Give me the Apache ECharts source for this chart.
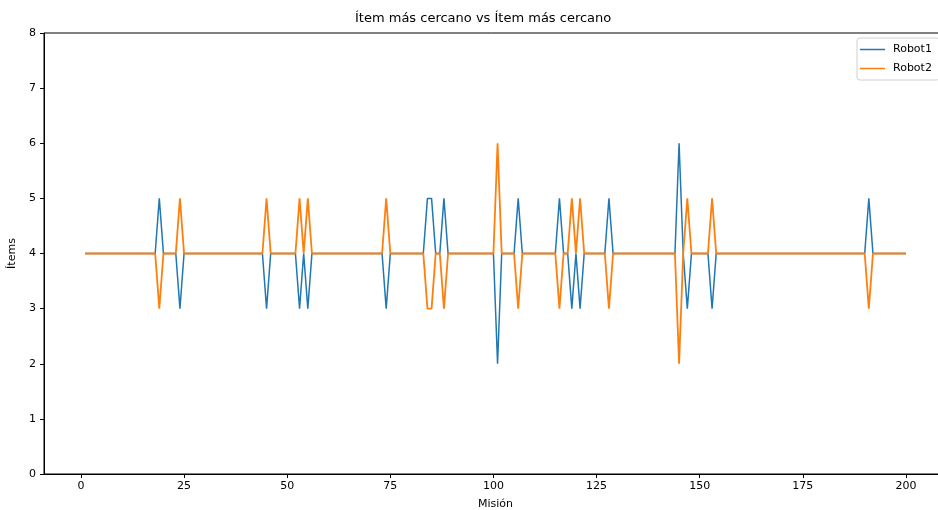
<!DOCTYPE html>
<html>
<head>
<meta charset="utf-8">
<script src="https://cdn.jsdelivr.net/npm/echarts@6/dist/echarts.min.js"></script>
<style>
  html, body { margin: 0; padding: 0; background: #fff; }
  #chart { width: 938px; height: 510px; }
</style>
</head>
<body>
<div id="chart"></div>
<script>
// datos: misiones 1..200, ítems por robot
const misiones = Array.from({ length: 200 }, (_, i) => i + 1);

const robot1 = [
  4,4,4,4,4,4,4,4,4,4,4,4,4,4,4,4,4,4,5,4,
  4,4,4,3,4,4,4,4,4,4,4,4,4,4,4,4,4,4,4,4,
  4,4,4,4,3,4,4,4,4,4,4,4,3,4,3,4,4,4,4,4,
  4,4,4,4,4,4,4,4,4,4,4,4,4,3,4,4,4,4,4,4,
  4,4,4,5,5,4,4,5,4,4,4,4,4,4,4,4,4,4,4,4,
  2,4,4,4,4,5,4,4,4,4,4,4,4,4,4,5,4,4,3,4,
  3,4,4,4,4,4,4,5,4,4,4,4,4,4,4,4,4,4,4,4,
  4,4,4,4,6,4,3,4,4,4,4,4,3,4,4,4,4,4,4,4,
  4,4,4,4,4,4,4,4,4,4,4,4,4,4,4,4,4,4,4,4,
  4,4,4,4,4,4,4,4,4,4,5,4,4,4,4,4,4,4,4,4
];

const robot2 = [
  4,4,4,4,4,4,4,4,4,4,4,4,4,4,4,4,4,4,3,4,
  4,4,4,5,4,4,4,4,4,4,4,4,4,4,4,4,4,4,4,4,
  4,4,4,4,5,4,4,4,4,4,4,4,5,4,5,4,4,4,4,4,
  4,4,4,4,4,4,4,4,4,4,4,4,4,5,4,4,4,4,4,4,
  4,4,4,3,3,4,4,3,4,4,4,4,4,4,4,4,4,4,4,4,
  6,4,4,4,4,3,4,4,4,4,4,4,4,4,4,3,4,4,5,4,
  5,4,4,4,4,4,4,3,4,4,4,4,4,4,4,4,4,4,4,4,
  4,4,4,4,2,4,5,4,4,4,4,4,5,4,4,4,4,4,4,4,
  4,4,4,4,4,4,4,4,4,4,4,4,4,4,4,4,4,4,4,4,
  4,4,4,4,4,4,4,4,4,4,3,4,4,4,4,4,4,4,4,4
];

const xTicks = [0, 25, 50, 75, 100, 125, 150, 175, 200];

const font = 'DejaVu Sans';
const chart = echarts.init(document.getElementById('chart'));

const option = {
  animation: false,
  backgroundColor: '#fff',
  title: {
    text: 'Ítem más cercano vs Ítem más cercano',
    left: 355,
    top: 12,
    padding: 0,
    textStyle: { fontFamily: font, fontSize: 13, fontWeight: 'normal', color: '#000' }
  },
  legend: {
    orient: 'vertical',
    left: 857,
    top: 38,
    padding: [6, 8, 6, 3],
    icon: 'rect',
    itemWidth: 25,
    itemHeight: 1.5,
    itemGap: 8,
    backgroundColor: '#fff',
    borderColor: '#d0d0d0',
    borderWidth: 1,
    borderRadius: 3,
    textStyle: { fontFamily: font, fontSize: 11, color: '#000', padding: [0, 0, 0, 3] },
    data: ['Robot1', 'Robot2']
  },
  grid: {
    left: 44,
    top: 33,
    width: 903,
    height: 441,
    show: true,
    borderColor: '#000',
    borderWidth: 1,
    containLabel: false,
    outerBoundsMode: 'none'
  },
  xAxis: {
    type: 'value',
    min: -8.95,
    max: 209.95,
    name: 'Misión',
    nameLocation: 'middle',
    nameGap: 25,
    nameTextStyle: { fontFamily: font, fontSize: 11, color: '#000' },
    splitLine: { show: false },
    axisLine: { onZero: false, lineStyle: { color: '#000', width: 1 } },
    axisTick: { inside: false, length: 4, customValues: xTicks, lineStyle: { color: '#000' } },
    axisLabel: { customValues: xTicks, margin: 7, fontFamily: font, fontSize: 11, color: '#000' }
  },
  yAxis: {
    type: 'value',
    min: 0,
    max: 8,
    interval: 1,
    name: 'Ítems',
    nameLocation: 'middle',
    nameGap: 22,
    nameTextStyle: { fontFamily: font, fontSize: 11, color: '#000' },
    splitLine: { show: false },
    axisLine: { show: true, onZero: false, lineStyle: { color: '#000', width: 1 } },
    axisTick: { show: true, length: 4, lineStyle: { color: '#000' } },
    axisLabel: { margin: 8, fontFamily: font, fontSize: 11, color: '#000' }
  },
  series: [
    {
      name: 'Robot1',
      type: 'line',
      data: misiones.map((m, i) => [m, robot1[i]]),
      showSymbol: false,
      symbol: 'none',
      lineStyle: { color: '#1f77b4', width: 1.5 },
      itemStyle: { color: '#1f77b4' }
    },
    {
      name: 'Robot2',
      type: 'line',
      data: misiones.map((m, i) => [m, robot2[i]]),
      showSymbol: false,
      symbol: 'none',
      lineStyle: { color: '#ff7f0e', width: 1.8 },
      itemStyle: { color: '#ff7f0e' }
    }
  ]
};

chart.setOption(option);
</script>
</body>
</html>
